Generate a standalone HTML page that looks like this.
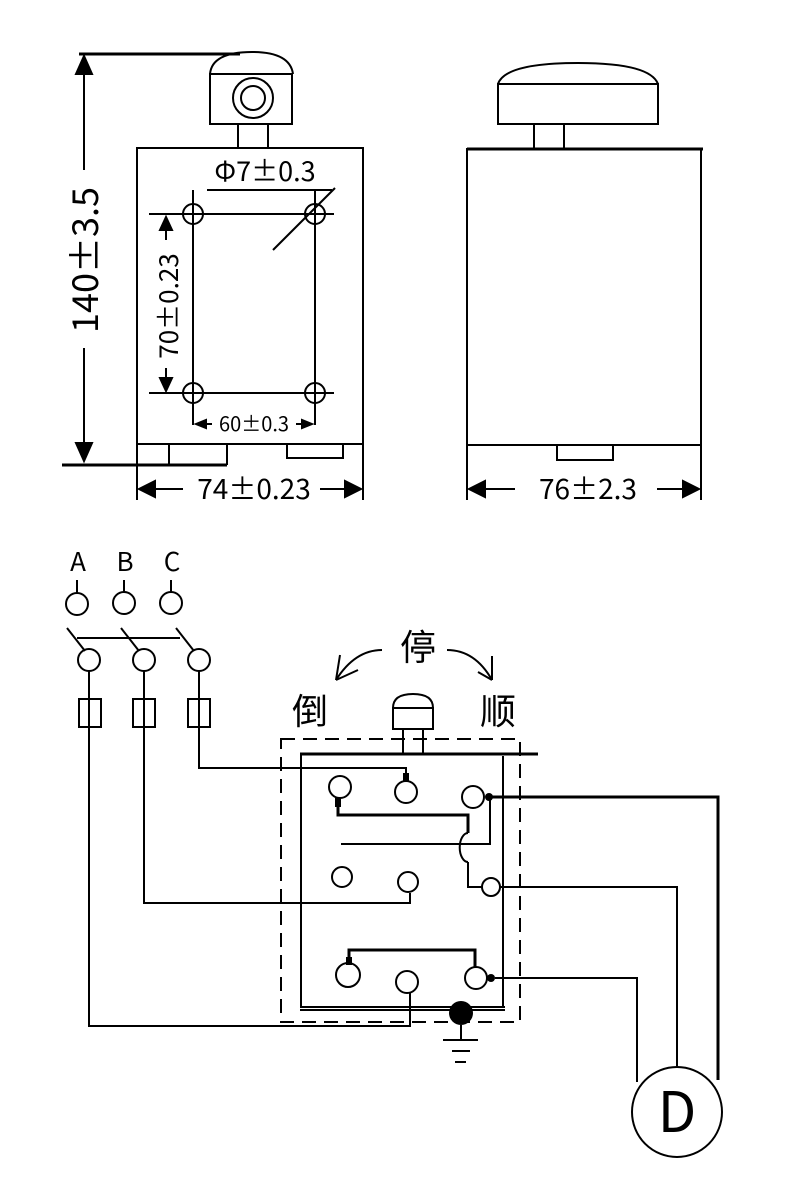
<!DOCTYPE html>
<html><head><meta charset="utf-8"><style>body{margin:0;background:#fff}svg{display:block}</style></head><body>
<svg width="790" height="1203" viewBox="0 0 790 1203" xmlns="http://www.w3.org/2000/svg" font-family="Noto Sans CJK SC, Liberation Sans, sans-serif" fill="none" stroke="#000" stroke-width="2">
<!-- Left view -->
<line x1="79" y1="54" x2="240" y2="54" stroke-width="3"/>
<path d="M210 74 Q212 52 252 52 Q290 52 293 74"/>
<rect x="210" y="74" width="82" height="50"/>
<circle cx="253" cy="98" r="20"/><circle cx="253" cy="98" r="12"/>
<line x1="238" y1="124" x2="238" y2="148"/><line x1="268" y1="124" x2="268" y2="148"/>
<rect x="137" y="148" width="226" height="296"/>
<line x1="137" y1="444" x2="137" y2="500"/><line x1="363" y1="444" x2="363" y2="500"/>
<line x1="62" y1="465" x2="227" y2="465" stroke-width="3"/>
<line x1="169" y1="444" x2="169" y2="465"/><line x1="227" y1="444" x2="227" y2="465"/>
<polyline points="287,444 287,458 343,458 343,444"/>
<line x1="84" y1="62" x2="84" y2="170"/><polygon points="84,56 76,74 92,74" fill="#000"/>
<line x1="84" y1="348" x2="84" y2="455"/><polygon points="84,461 76,443 92,443" fill="#000"/>
<text transform="translate(98,260) rotate(-90)" text-anchor="middle" font-size="36" fill="#000" stroke="none">140±3.5</text>
<line x1="193" y1="190" x2="193" y2="425"/><line x1="315" y1="190" x2="315" y2="425"/>
<line x1="149" y1="214" x2="334" y2="214"/><line x1="149" y1="393" x2="334" y2="393"/>
<circle cx="193" cy="214" r="10"/><circle cx="315" cy="214" r="10"/><circle cx="193" cy="393" r="10"/><circle cx="315" cy="393" r="10"/>
<line x1="207" y1="190" x2="332" y2="190"/><line x1="335" y1="188" x2="273" y2="250"/>
<text x="265" y="181" text-anchor="middle" font-size="27" fill="#000" stroke="none">Φ7±0.3</text>
<line x1="166" y1="228" x2="166" y2="240"/><polygon points="166,217 160,230 172,230" fill="#000"/>
<line x1="166" y1="368" x2="166" y2="378"/><polygon points="166,391 160,378 172,378" fill="#000"/>
<text transform="translate(178,306) rotate(-90)" text-anchor="middle" font-size="26" fill="#000" stroke="none">70±0.23</text>
<polygon points="196,424 206,420 206,428" fill="#000"/><line x1="206" y1="424" x2="212" y2="424"/>
<polygon points="312,424 302,420 302,428" fill="#000"/><line x1="296" y1="424" x2="302" y2="424"/>
<text x="254" y="431" text-anchor="middle" font-size="20" fill="#000" stroke="none">60±0.3</text>
<line x1="150" y1="489" x2="183" y2="489"/><polygon points="139,489 155,481 155,497" fill="#000"/>
<line x1="320" y1="489" x2="350" y2="489"/><polygon points="361,489 345,481 345,497" fill="#000"/>
<text x="254" y="499" text-anchor="middle" font-size="28" fill="#000" stroke="none">74±0.23</text>
<!-- Right view -->
<path d="M498 84 Q505 63 578 63 Q650 63 658 84"/>
<rect x="498" y="84" width="160" height="40"/>
<line x1="534" y1="124" x2="534" y2="148"/><line x1="564" y1="124" x2="564" y2="148"/>
<line x1="467" y1="149" x2="703" y2="149" stroke-width="3"/>
<rect x="467" y="149" width="234" height="296"/>
<line x1="467" y1="445" x2="467" y2="500"/><line x1="701" y1="445" x2="701" y2="500"/>
<polyline points="557,445 557,460 613,460 613,445"/>
<line x1="480" y1="489" x2="515" y2="489"/><polygon points="469,489 485,481 485,497" fill="#000"/>
<line x1="657" y1="489" x2="690" y2="489"/><polygon points="699,489 683,481 683,497" fill="#000"/>
<text x="588" y="499" text-anchor="middle" font-size="28" fill="#000" stroke="none">76±2.3</text>
<!-- Circuit -->
<g font-size="26" fill="#000" stroke="none" text-anchor="middle">
<text x="78" y="571">A</text><text x="125" y="571">B</text><text x="172" y="571">C</text></g>
<line x1="77" y1="580" x2="77" y2="593"/><line x1="124" y1="580" x2="124" y2="592"/><line x1="171" y1="580" x2="171" y2="592"/>
<circle cx="77" cy="604" r="11"/><circle cx="124" cy="603" r="11"/><circle cx="171" cy="603" r="11"/>
<line x1="67" y1="628" x2="85" y2="651"/><line x1="121" y1="628" x2="139" y2="651"/><line x1="176" y1="628" x2="194" y2="651"/>
<line x1="77" y1="638" x2="180" y2="638"/>
<circle cx="89" cy="660" r="11"/><circle cx="144" cy="660" r="11"/><circle cx="199" cy="660" r="11"/>
<rect x="79" y="699" width="22" height="28"/><rect x="133" y="699" width="22" height="28"/><rect x="188" y="699" width="22" height="28"/>
<polyline points="89,671 89,1026 410,1026 410,993"/>
<polyline points="144,671 144,903 410,903 410,893"/>
<polyline points="199,671 199,768 406,768 406,781"/>
<text x="418" y="660" font-size="36" fill="#000" stroke="none" text-anchor="middle">停</text>
<text x="310" y="724" font-size="36" fill="#000" stroke="none" text-anchor="middle">倒</text>
<text x="498" y="724" font-size="36" fill="#000" stroke="none" text-anchor="middle">顺</text>
<path d="M382 650 Q355 650 336 680"/><path d="M336 680 L340 655 M336 680 L358 670"/>
<path d="M447 650 Q475 650 492 680"/><path d="M492 680 L478 672 M492 680 L492 656"/>
<path d="M393 708 Q393 694 413 694 Q433 694 433 708"/>
<rect x="393" y="708" width="40" height="21"/>
<line x1="403" y1="729" x2="403" y2="754"/><line x1="423" y1="729" x2="423" y2="754"/>
<rect x="281" y="739" width="239" height="283" stroke-dasharray="14,8"/>
<line x1="300" y1="754" x2="538" y2="754" stroke-width="3"/>
<line x1="301" y1="754" x2="301" y2="1008"/><line x1="503" y1="756" x2="503" y2="1008"/>
<line x1="300" y1="1007" x2="505" y2="1007"/><line x1="300" y1="1010" x2="505" y2="1010"/>
<circle cx="340" cy="787" r="11"/><circle cx="406" cy="792" r="11"/><circle cx="473" cy="797" r="11"/>
<circle cx="342" cy="877" r="10"/><circle cx="408" cy="882" r="10"/><circle cx="491" cy="887" r="9"/>
<circle cx="348" cy="975" r="12"/><circle cx="407" cy="982" r="11"/><circle cx="476" cy="978" r="11"/>
<g fill="#000" stroke="none">
<rect x="403" y="773" width="6" height="9"/><rect x="335" y="798" width="6" height="9"/>
<circle cx="489" cy="797" r="4"/><rect x="346" y="957" width="6" height="8"/><circle cx="491" cy="978" r="4"/>
<circle cx="461" cy="1013" r="12"/></g>
<polyline points="338,803 338,815 468,815 468,833" stroke-width="3"/>
<path d="M468 833 A8 14 0 0 0 468 862"/>
<polyline points="468,862 468,887 482,887"/>
<polyline points="341,844 490,844 490,797"/>
<polyline points="349,960 349,950 475,950 475,967" stroke-width="3"/>
<line x1="461" y1="1025" x2="461" y2="1040"/>
<line x1="443" y1="1040" x2="478" y2="1040"/><line x1="452" y1="1051" x2="470" y2="1051"/><line x1="455" y1="1062" x2="466" y2="1062"/>
<polyline points="491,797 718,797 718,1080" stroke-width="3"/>
<polyline points="500,887 677,887 677,1066"/>
<polyline points="495,978 637,978 637,1082"/>
<circle cx="677" cy="1112" r="45"/>
<text x="677" y="1132" font-size="56" fill="#000" stroke="none" text-anchor="middle">D</text>
</svg>
</body></html>
